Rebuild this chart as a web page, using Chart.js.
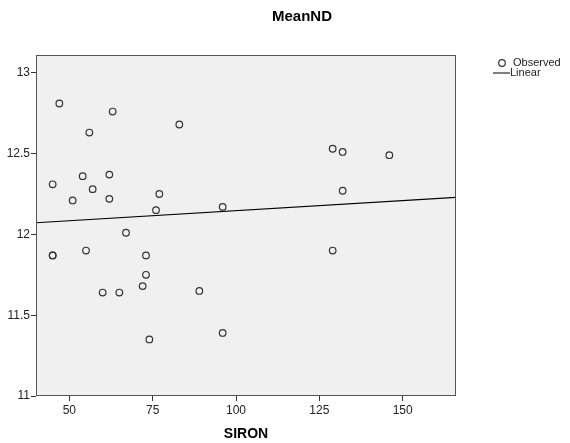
<!DOCTYPE html>
<html>
<head>
<meta charset="utf-8">
<script src="https://cdn.jsdelivr.net/npm/chart.js@4.4.1/dist/chart.umd.min.js"></script>
<style>
    body { margin: 0; background: #ffffff; }
    #wrap { width: 570px; height: 443px; }
</style>
</head>
<body>
<div id="wrap"><canvas id="chart" width="570" height="443"></canvas></div>
<script>
/* ================= DATA ================= */

const sironValues = [47, 63, 56, 83, 45, 54, 62, 57, 51, 62, 77, 76, 67, 45, 45,
                     55, 73, 73, 72, 60, 65, 74, 89, 96, 129, 129, 132, 146, 132, 96];
const meanNDValues = [12.81, 12.76, 12.63, 12.68, 12.31, 12.36, 12.37, 12.28, 12.21, 12.22,
                      12.25, 12.15, 12.01, 11.87, 11.87, 11.90, 11.87, 11.75, 11.68, 11.64,
                      11.64, 11.35, 11.65, 11.39, 11.90, 12.53, 12.51, 12.49, 12.27, 12.17];

// fitted line, read at the two edges of the plot
const linearX = [40, 166];
const linearY = [12.072, 12.229];

const xTicks = [50, 75, 100, 125, 150];
const yTicks = [11, 11.5, 12, 12.5, 13];

const observed = sironValues.map((x, i) => ({ x: x, y: meanNDValues[i] }));
const linear = linearX.map((x, i) => ({ x: x, y: linearY[i] }));

const FONT = "'Liberation Sans', Arial, sans-serif";

/* ================= PLUGINS ================= */

const plotFrame = {
    id: "plotFrame",
    beforeDatasetsDraw(chart) {
        const a = chart.chartArea;
        const ctx = chart.ctx;
        ctx.save();
        ctx.fillStyle = "#f0f0f0";
        ctx.fillRect(a.left, a.top, a.right - a.left, a.bottom - a.top);
        ctx.restore();
    },
    afterDatasetsDraw(chart) {
        const a = chart.chartArea;
        const ctx = chart.ctx;
        ctx.save();
        ctx.strokeStyle = "#555555";
        ctx.lineWidth = 1;
        ctx.strokeRect(a.left + 0.5, a.top + 0.5, a.right - a.left - 1, a.bottom - a.top - 1);
        ctx.restore();
    },
    afterDraw(chart) {
        const ctx = chart.ctx;
        ctx.save();
        // title
        ctx.fillStyle = "#000000";
        ctx.font = "bold 15px " + FONT;
        ctx.textAlign = "center";
        ctx.textBaseline = "middle";
        ctx.fillText("MeanND", 302, 17);

        // legend
        ctx.font = "11px " + FONT;
        ctx.textAlign = "left";
        ctx.fillStyle = "#222222";
        ctx.strokeStyle = "#333333";
        ctx.lineWidth = 1.2;
        ctx.beginPath();
        ctx.arc(502, 63, 3.3, 0, Math.PI * 2);
        ctx.stroke();
        ctx.fillText("Observed", 513, 63);
        ctx.strokeStyle = "#000000";
        ctx.lineWidth = 1;
        ctx.beginPath();
        ctx.moveTo(493, 73);
        ctx.lineTo(510, 73);
        ctx.stroke();
        ctx.fillText("Linear", 510, 73);
        ctx.restore();
    }
};

/* ================= CHART ================= */

new Chart(document.getElementById("chart"), {
    type: "scatter",
    data: {
        datasets: [
            {
                label: "Observed",
                data: observed,
                pointStyle: "circle",
                pointRadius: 3.3,
                pointBorderWidth: 1.2,
                pointBorderColor: "#333333",
                pointBackgroundColor: "rgba(0,0,0,0)",
                showLine: false
            },
            {
                label: "Linear",
                data: linear,
                showLine: true,
                borderColor: "#000000",
                borderWidth: 1.2,
                pointRadius: 0
            }
        ]
    },
    options: {
        responsive: false,
        animation: false,
        layout: {
            padding: { left: 0, top: 55, right: 114, bottom: 0 }
        },
        plugins: {
            legend: { display: false },
            tooltip: { enabled: false },
            title: { display: false }
        },
        scales: {
            x: {
                type: "linear",
                min: 40,
                max: 166,
                afterBuildTicks: s => { s.ticks = xTicks.map(v => ({ value: v })); },
                afterFit: s => { s.height = 47; },
                grid: {
                    drawOnChartArea: false,
                    drawTicks: true,
                    tickLength: 5,
                    color: "#333333"
                },
                border: { display: false },
                ticks: {
                    color: "#222222",
                    padding: 2,
                    callback: v => String(v),
                    font: { family: FONT, size: 12 }
                },
                title: {
                    display: true,
                    text: "SIRON",
                    color: "#000000",
                    padding: { top: 6, bottom: 0 },
                    font: { family: FONT, size: 14, weight: "bold" }
                }
            },
            y: {
                type: "linear",
                min: 11,
                max: 13.11,
                afterBuildTicks: s => { s.ticks = yTicks.map(v => ({ value: v })); },
                afterFit: s => { s.width = 36; },
                grid: {
                    drawOnChartArea: false,
                    drawTicks: true,
                    tickLength: 5,
                    color: "#333333"
                },
                border: { display: false },
                ticks: {
                    color: "#222222",
                    padding: 1,
                    callback: v => String(v),
                    font: { family: FONT, size: 12 }
                }
            }
        }
    },
    plugins: [plotFrame]
});
</script>
</body>
</html>
